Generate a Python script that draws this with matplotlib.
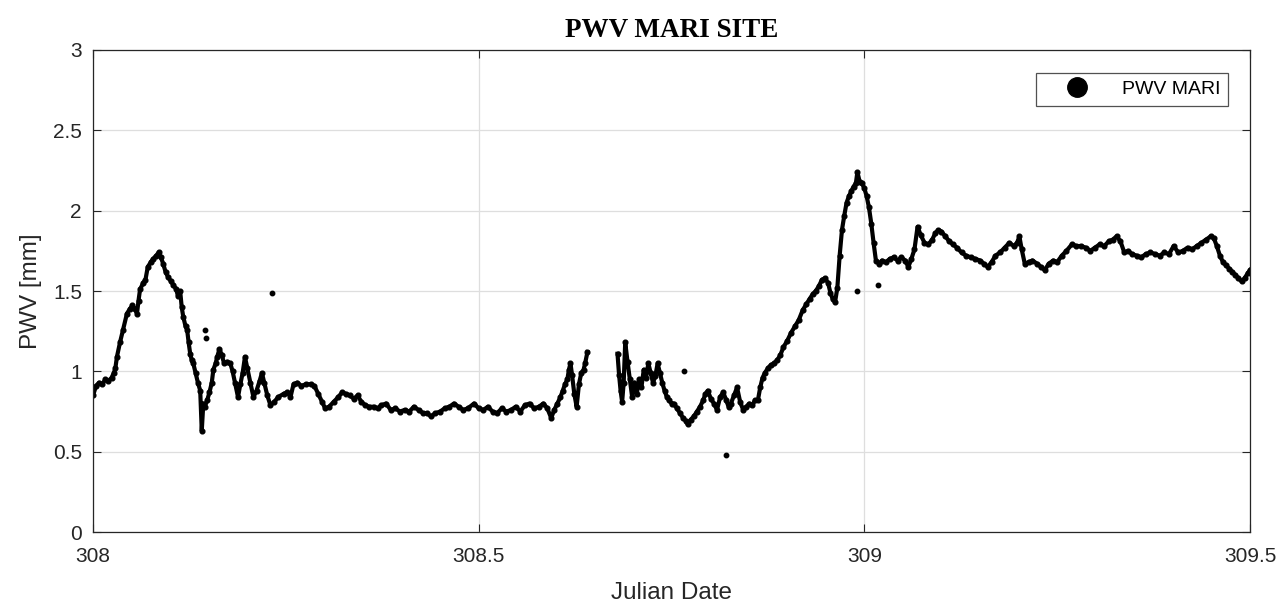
import numpy as np
import matplotlib.pyplot as plt

# julian date / pwv (nan = data gap)
jd = [308.000, 308.004, 308.008, 308.012, 308.016, 308.020, 308.024, 308.027, 308.029,
      308.031, 308.035, 308.039, 308.044, 308.048, 308.051, 308.054, 308.057, 308.059,
      308.061, 308.065, 308.068, 308.071, 308.075, 308.078, 308.082, 308.085, 308.088,
      308.091, 308.094, 308.097, 308.101, 308.104, 308.108, 308.110, 308.113, 308.115,
      308.117, 308.120, 308.122, 308.124, 308.126, 308.128, 308.130, 308.133, 308.136,
      308.139, 308.141, 308.143, 308.145, 308.148, 308.151, 308.154, 308.156, 308.159,
      308.161, 308.164, 308.167, 308.170, 308.174, 308.178, 308.181, 308.184, 308.188,
      308.191, 308.194, 308.197, 308.200, 308.204, 308.208, 308.212, 308.216, 308.219,
      308.222, 308.226, 308.230, 308.235, 308.240, 308.247, 308.252, 308.256, 308.260,
      308.265, 308.270, 308.276, 308.282, 308.287, 308.292, 308.297, 308.301, 308.306,
      308.312, 308.318, 308.323, 308.328, 308.333, 308.338, 308.343, 308.348, 308.353,
      308.358, 308.364, 308.369, 308.374, 308.380, 308.386, 308.392, 308.398, 308.404,
      308.410, 308.416, 308.422, 308.428, 308.433, 308.438, 308.444, 308.450, 308.456,
      308.462, 308.468, 308.474, 308.480, 308.486, 308.494, 308.500, 308.506, 308.512,
      308.518, 308.524, 308.530, 308.536, 308.542, 308.548, 308.554, 308.560, 308.566,
      308.572, 308.578, 308.584, 308.589, 308.594, 308.598, 308.602, 308.606, 308.609,
      308.612, 308.615, 308.617, 308.619, 308.621, 308.624, 308.627, 308.630, 308.633,
      308.636, 308.638, 308.641, 308.660,
      308.680, 308.682, 308.684, 308.686, 308.688, 308.690, 308.693, 308.696, 308.699,
      308.702, 308.705, 308.708, 308.711, 308.714, 308.717, 308.720, 308.723, 308.726,
      308.729, 308.732, 308.735, 308.738, 308.741, 308.744, 308.747, 308.750, 308.753,
      308.757, 308.761, 308.765, 308.769, 308.771, 308.775, 308.779, 308.783, 308.787,
      308.791, 308.794, 308.797, 308.801, 308.805, 308.809, 308.813, 308.817, 308.821,
      308.824, 308.827, 308.831, 308.835, 308.839, 308.843, 308.847, 308.851, 308.855,
      308.858, 308.862, 308.865, 308.868, 308.871, 308.875, 308.879, 308.883, 308.887,
      308.891, 308.895, 308.900, 308.905, 308.910, 308.915, 308.920, 308.925, 308.929,
      308.933, 308.937, 308.941, 308.945, 308.949, 308.953, 308.956, 308.959, 308.962,
      308.965, 308.968, 308.971, 308.974, 308.977, 308.980, 308.983, 308.986, 308.989,
      308.991, 308.994, 308.997, 309.000, 309.003, 309.006, 309.009, 309.012, 309.015,
      309.019, 309.023, 309.028, 309.033, 309.038, 309.043, 309.048, 309.053, 309.057,
      309.061, 309.065, 309.069, 309.073, 309.078, 309.083, 309.088, 309.092, 309.096,
      309.100, 309.105, 309.110, 309.115, 309.120, 309.126, 309.132, 309.138, 309.144,
      309.150, 309.155, 309.160, 309.165, 309.170, 309.176, 309.182, 309.188, 309.194,
      309.198, 309.201, 309.204, 309.208, 309.213, 309.218, 309.224, 309.229, 309.234,
      309.239, 309.245, 309.250, 309.256, 309.262, 309.269, 309.275, 309.281, 309.287,
      309.293, 309.299, 309.305, 309.311, 309.317, 309.322, 309.327, 309.332, 309.337,
      309.342, 309.347, 309.353, 309.359, 309.365, 309.371, 309.377, 309.383, 309.389,
      309.395, 309.401, 309.407, 309.413, 309.419, 309.425, 309.431, 309.437, 309.443,
      309.449, 309.453, 309.457, 309.461, 309.465, 309.469, 309.473, 309.477, 309.481,
      309.485, 309.489, 309.493, 309.497, 309.500]

pwv = [0.85, 0.91, 0.93, 0.92, 0.95, 0.94, 0.96, 0.99, 1.02,
       1.09, 1.18, 1.26, 1.36, 1.39, 1.41, 1.39, 1.36, 1.44,
       1.51, 1.55, 1.57, 1.65, 1.68, 1.70, 1.72, 1.74, 1.71,
       1.67, 1.62, 1.59, 1.56, 1.54, 1.51, 1.47, 1.50, 1.40,
       1.34, 1.28, 1.26, 1.18, 1.11, 1.07, 1.05, 0.99, 0.93,
       0.88, 0.63, 0.80, 0.78, 0.82, 0.87, 0.93, 1.01, 1.05,
       1.09, 1.14, 1.10, 1.05, 1.06, 1.05, 1.00, 0.93, 0.84,
       0.92, 0.99, 1.09, 1.02, 0.93, 0.84, 0.88, 0.94, 0.99,
       0.93, 0.85, 0.79, 0.81, 0.84, 0.86, 0.87, 0.84, 0.92,
       0.93, 0.91, 0.92, 0.92, 0.91, 0.86, 0.81, 0.77, 0.78,
       0.81, 0.84, 0.87, 0.86, 0.85, 0.83, 0.85, 0.81, 0.79,
       0.78, 0.78, 0.77, 0.79, 0.80, 0.76, 0.77, 0.75, 0.76,
       0.75, 0.78, 0.76, 0.74, 0.74, 0.72, 0.74, 0.75, 0.77,
       0.78, 0.80, 0.78, 0.76, 0.77, 0.80, 0.77, 0.76, 0.78,
       0.75, 0.74, 0.77, 0.75, 0.76, 0.78, 0.75, 0.79, 0.80,
       0.77, 0.78, 0.80, 0.77, 0.71, 0.76, 0.80, 0.84, 0.88,
       0.92, 0.95, 1.01, 1.05, 0.98, 0.86, 0.78, 0.92, 0.99,
       1.01, 1.05, 1.12, np.nan,
       1.11, 0.98, 0.88, 0.81, 0.93, 1.18, 1.06, 0.95, 0.84,
       0.93, 0.86, 0.95, 0.90, 1.01, 0.96, 1.05, 0.99, 0.93,
       0.97, 1.05, 0.99, 0.93, 0.88, 0.84, 0.82, 0.80, 0.80,
       0.77, 0.74, 0.71, 0.69, 0.67, 0.70, 0.72, 0.75, 0.78,
       0.82, 0.86, 0.88, 0.83, 0.80, 0.76, 0.84, 0.87, 0.82,
       0.78, 0.80, 0.85, 0.90, 0.81, 0.76, 0.78, 0.80, 0.79,
       0.82, 0.82, 0.90, 0.96, 0.99, 1.02, 1.04, 1.05, 1.07,
       1.10, 1.15, 1.19, 1.24, 1.28, 1.32, 1.38, 1.42, 1.45,
       1.48, 1.50, 1.53, 1.57, 1.58, 1.55, 1.49, 1.45, 1.43,
       1.52, 1.72, 1.88, 1.97, 2.05, 2.09, 2.12, 2.15, 2.17,
       2.24, 2.18, 2.17, 2.14, 2.09, 2.02, 1.92, 1.80, 1.69,
       1.67, 1.69, 1.68, 1.70, 1.71, 1.69, 1.71, 1.69, 1.65,
       1.70, 1.76, 1.90, 1.85, 1.80, 1.79, 1.82, 1.86, 1.88,
       1.87, 1.84, 1.81, 1.79, 1.77, 1.74, 1.72, 1.71, 1.70,
       1.69, 1.67, 1.65, 1.68, 1.72, 1.74, 1.77, 1.80, 1.78,
       1.80, 1.84, 1.76, 1.67, 1.68, 1.69, 1.67, 1.65, 1.63,
       1.67, 1.69, 1.68, 1.72, 1.75, 1.79, 1.78, 1.78, 1.77,
       1.75, 1.77, 1.79, 1.78, 1.81, 1.82, 1.84, 1.81, 1.74,
       1.75, 1.73, 1.72, 1.71, 1.73, 1.74, 1.73, 1.72, 1.74,
       1.73, 1.78, 1.74, 1.75, 1.77, 1.76, 1.78, 1.80, 1.82,
       1.84, 1.83, 1.78, 1.72, 1.68, 1.66, 1.64, 1.62, 1.60,
       1.58, 1.56, 1.58, 1.61, 1.63]

# stray single points
out_jd = [308.145, 308.146, 308.232, 308.766, 308.821, 308.990, 309.018]
out_pwv = [1.26, 1.21, 1.49, 1.00, 0.48, 1.50, 1.54]

plt.rcParams['font.family'] = ['Liberation Sans', 'DejaVu Sans']
txt = '#262626'

fig = plt.figure(figsize=(12.81, 6.06), dpi=100)
ax = fig.add_axes([0.0726, 0.122, 0.9032, 0.7955])

ax.plot(jd, pwv, color='k', lw=3.0, marker='o', ms=3.4, label='_line')
ax.plot(out_jd, out_pwv, 'ko', ms=3.2, ls='none')
ax.plot([], [], 'ko', ms=14, ls='none', label='PWV MARI')

ax.set_xlim(308, 309.5)
ax.set_ylim(0, 3)
ax.set_xticks([308, 308.5, 309, 309.5])
ax.set_xticklabels(['308', '308.5', '309', '309.5'])
ax.set_yticks([0, 0.5, 1, 1.5, 2, 2.5, 3])
ax.set_yticklabels(['0', '0.5', '1', '1.5', '2', '2.5', '3'])
ax.grid(True, color='#dedede', lw=0.9)
ax.set_axisbelow(True)
ax.tick_params(direction='in', top=True, right=True, length=6, labelsize=15,
               colors=txt)
ax.tick_params(axis='x', pad=11)
ax.tick_params(axis='y', pad=8)
for s in ax.spines.values():
    s.set_color(txt)
    s.set_linewidth(0.9)

ax.set_xlabel('Julian Date', fontsize=17.5, color=txt, labelpad=11)
ax.set_ylabel('PWV [mm]', fontsize=17.5, color=txt, labelpad=8)
ax.set_title('PWV MARI SITE', fontsize=19.5, fontweight='bold',
             family='Liberation Serif', pad=9)

leg = ax.legend(loc='upper right', bbox_to_anchor=(0.981, 0.953), fontsize=14,
                frameon=True, fancybox=False, handletextpad=0.6, borderpad=0.4,
                handlelength=3.4, borderaxespad=0)
leg.get_frame().set_edgecolor(txt)
leg.get_frame().set_linewidth(0.9)

fig.savefig('out.png', dpi=100)
